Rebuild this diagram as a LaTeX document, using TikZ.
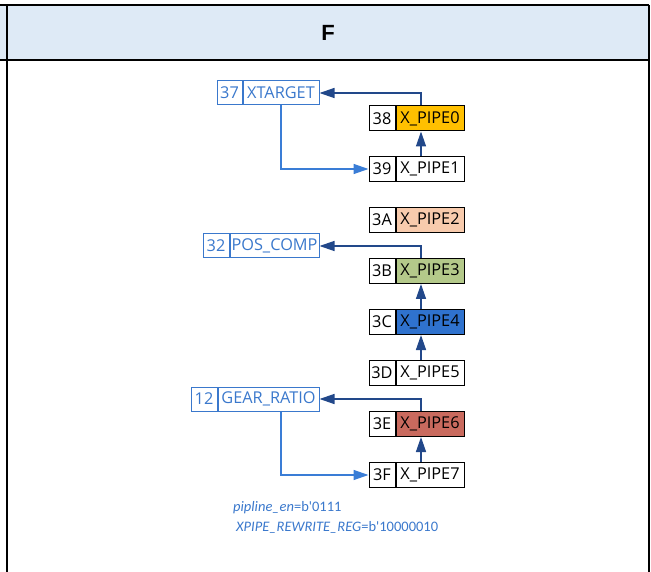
\documentclass[tikz,border=0pt]{standalone}
\usepackage{fontspec}
\setmainfont{Open Sans}
\newfontfamily\calib{Carlito}
\newfontfamily\hdrfont{Liberation Sans}
\usetikzlibrary{arrows.meta,calc}
\definecolor{hdrfill}{HTML}{DEEAF6}
\definecolor{bluetxt}{HTML}{3A78CC}
\definecolor{darkarr}{HTML}{22488A}
\definecolor{lightarr}{HTML}{3A7DD6}
\definecolor{gold}{HTML}{FFC000}
\definecolor{peach}{HTML}{F8CBAD}
\definecolor{olive}{HTML}{B4C98A}
\definecolor{midblue}{HTML}{2F72CE}
\definecolor{brick}{HTML}{C96A5E}
\tikzset{
  cellbox/.style={draw=black, line width=1pt, minimum height=25pt, inner sep=0pt, font=\fontsize{16.3}{19}\selectfont, text=black},
  idcell/.style={cellbox, minimum width=26pt},
  namecell/.style={cellbox, minimum width=68pt, anchor=west},
  bluebox/.style={draw=bluetxt, line width=1pt, minimum height=24pt, inner sep=0pt, font=\fontsize{16.3}{19}\selectfont, text=bluetxt},
  darr/.style={draw=darkarr, line width=1.4pt, -{Triangle[length=15pt,width=10pt]}},
  larr/.style={draw=lightarr, line width=1.4pt, -{Triangle[length=15pt,width=10pt]}},
  frame/.style={line width=2.5pt, draw=black},
  note/.style={anchor=west, inner sep=0pt, text=bluetxt, font=\calib\fontsize{14.5}{16}\selectfont},
}
\begin{document}
\begin{tikzpicture}[x=1pt,y=-1pt]
\useasboundingbox (0,0) rectangle (651,572);
% header
\fill[hdrfill] (0,5) rectangle (649,60);
\draw[frame] (0,5) -- (649,5);
\draw[frame] (0,60) -- (649,60);
\draw[frame] (7,5) -- (7,572);
\draw[frame] (649,5) -- (649,572);
\node[font=\hdrfont\bfseries\fontsize{22}{24}\selectfont] (hdr) at (328,33) {F};

% pipe boxes
\foreach \id/\nm/\y/\fc in {38/X\_PIPE0/118.5/gold, 39/X\_PIPE1/169/white, 3A/X\_PIPE2/220/peach, 3B/X\_PIPE3/271/olive, 3C/X\_PIPE4/322/midblue, 3D/X\_PIPE5/373/white, 3E/X\_PIPE6/424/brick, 3F/X\_PIPE7/475/white}{
  \node[idcell] (i\id) at (382,\y) {\id};
  \node[namecell, fill=\fc] (n\id) at (i\id.east) {\nm};
}

% blue register boxes
\node[bluebox, minimum width=25pt] (ixt) at (229.5,93) {37};
\node[bluebox, minimum width=76pt, anchor=west] (xt) at (ixt.east) {XTARGET};
\node[bluebox, minimum width=26pt] (ipc) at (216,246) {32};
\node[bluebox, minimum width=89pt, anchor=west] (pc) at (ipc.east) {POS\_COMP};
\node[bluebox, minimum width=26pt] (igr) at (204,399) {12};
\node[bluebox, minimum width=101pt, anchor=west] (gr) at (igr.east) {GEAR\_RATIO};

% connectors
\draw[darr] ([xshift=-9pt]n38.north) |- (xt.east);
\draw[darr] ([xshift=-9pt]n39.north) -- ([xshift=-9pt]n38.south);
\draw[larr] (xt.south) |- (i39.west);

\draw[darr] ([xshift=-9pt]n3B.north) |- (pc.east);
\draw[darr] ([xshift=-9pt]n3C.north) -- ([xshift=-9pt]n3B.south);
\draw[darr] ([xshift=-9pt]n3D.north) -- ([xshift=-9pt]n3C.south);

\draw[darr] ([xshift=-9pt]n3E.north) |- (gr.east);
\draw[darr] ([xshift=-9pt]n3F.north) -- ([xshift=-9pt]n3E.south);
\draw[larr] ([xshift=12.5pt]gr.south) |- (i3F.west);

% notes
\node[note] (note1) at (233,508) {\textit{pipline\_en}=b'0111};
\node[note] (note2) at (236,527) {\textit{XPIPE\_REWRITE\_REG}=b'10000010};
\end{tikzpicture}
\end{document}
